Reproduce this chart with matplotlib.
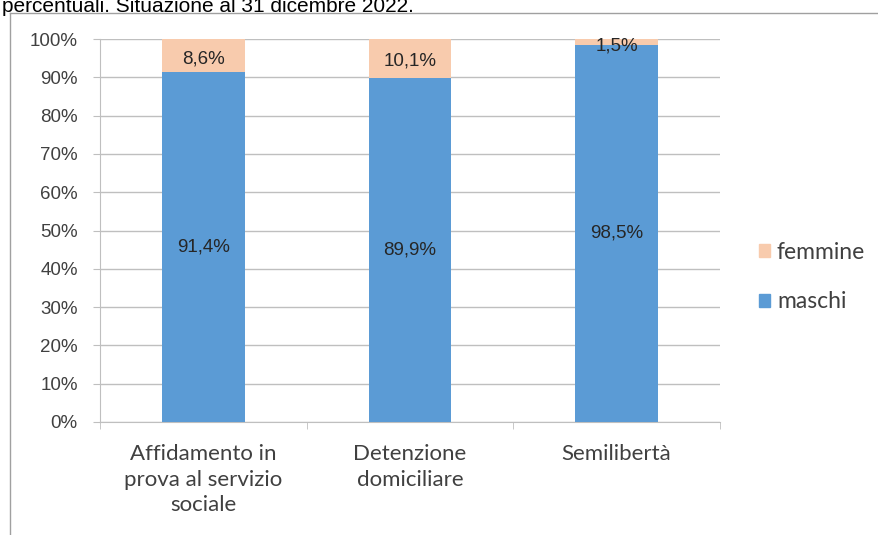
import numpy as np
import matplotlib
matplotlib.use("Agg")
import matplotlib.pyplot as plt
from matplotlib.lines import Line2D
from matplotlib.patches import Patch

categorie = ["Affidamento in\nprova al servizio\nsociale", "Detenzione\ndomiciliare", "Semilibertà"]
maschi = [91.4, 89.9, 98.5]
femmine = [8.6, 10.1, 1.5]
etich_maschi = ["91,4%", "89,9%", "98,5%"]
etich_femmine = ["8,6%", "10,1%", "1,5%"]
yticks = np.arange(0, 101, 10)

blu = "#5B9BD5"
pesca = "#F8CBAD"
grigio = "#BFBFBF"

fig = plt.figure(figsize=(8.79, 5.35), dpi=100)
fig.patch.set_facecolor("white")

# cornice e titolo tagliato in alto
fig.add_artist(Line2D([10/879, 10/879], [0, 1 - 13/535], color="#A0A0A0", lw=1))
fig.add_artist(Line2D([10/879, 1], [1 - 13/535, 1 - 13/535], color="#A0A0A0", lw=1))
fig.text(2/879, 1 - 16/535, "percentuali. Situazione al 31 dicembre 2022.",
         family="Liberation Sans", fontsize=15, va="bottom", ha="left", color="black")

ax = fig.add_axes([100/879, 113/535, 620/879, 383/535])
x = np.arange(len(categorie))
ax.bar(x, maschi, width=0.4, color=blu, label="maschi", zorder=3)
ax.bar(x, femmine, width=0.4, bottom=maschi, color=pesca, label="femmine", zorder=3)

for i in range(len(categorie)):
    ax.text(x[i], maschi[i] / 2, etich_maschi[i], ha="center", va="center",
            family="Liberation Sans", fontsize=13.5, color="#262626", zorder=4)
    ypos = maschi[i] + femmine[i] / 2 - 0.8
    if femmine[i] < 3:
        ypos = maschi[i] - 0.2
    ax.text(x[i], ypos, etich_femmine[i], ha="center", va="center",
            family="Liberation Sans", fontsize=13.5, color="#262626", zorder=4)

ax.set_xlim(-0.5, len(categorie) - 0.5)
ax.set_ylim(0, 100)
ax.set_yticks(yticks)
ax.set_yticklabels([f"{v}%" for v in yticks], family="Liberation Sans", fontsize=13.5, color="#404040")
ax.yaxis.grid(True, color=grigio, lw=1, zorder=0)
ax.set_axisbelow(True)

ax.set_xticks(x)
ax.set_xticklabels(categorie, family="Lato", fontsize=16, color="#404040", linespacing=1.35)
ax.set_xticks(np.arange(-0.5, len(categorie)), minor=True)
ax.tick_params(axis="x", which="major", length=0, pad=16)
ax.tick_params(axis="x", which="minor", length=5, color=grigio)
ax.tick_params(axis="y", length=5, color=grigio, pad=11)

for s in ["top", "right"]:
    ax.spines[s].set_visible(False)
for s in ["left", "bottom"]:
    ax.spines[s].set_color(grigio)

handles = [Patch(color=pesca, label="femmine"), Patch(color=blu, label="maschi")]
leg = fig.legend(handles=handles, loc="center left", bbox_to_anchor=(738/879, 1 - 277/535),
                 frameon=False, prop={"family": "Lato", "size": 16.5},
                 handlelength=0.5, handleheight=0.5, handletextpad=0.3, labelspacing=1.25)
for t in leg.get_texts():
    t.set_color("#404040")

fig.savefig("out.png", dpi=100)
